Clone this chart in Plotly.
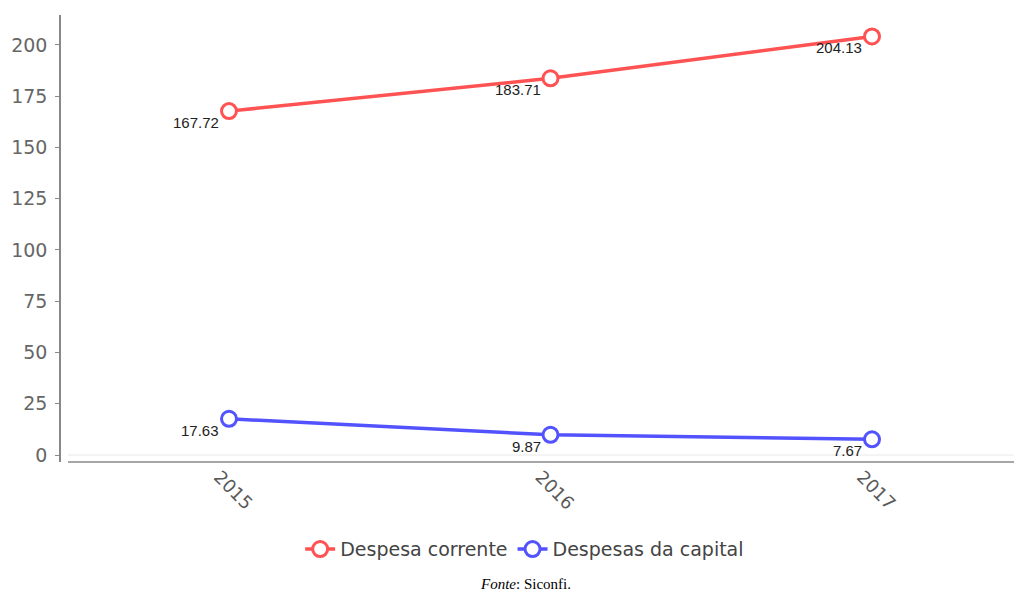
import plotly.graph_objects as go

years = ["2015", "2016", "2017"]
despesa_corrente = [167.72, 183.71, 204.13]
despesas_capital = [17.63, 9.87, 7.67]
series_names = ["Despesa corrente", "Despesas da capital"]
y_ticks = [0, 25, 50, 75, 100, 125, 150, 175, 200]

RED = "#ff5252"
BLUE = "#5252ff"

fig = go.Figure()
for name, vals, col in [(series_names[0], despesa_corrente, RED),
                        (series_names[1], despesas_capital, BLUE)]:
    fig.add_trace(go.Scatter(
        x=years, y=vals, name=name, mode="lines+markers",
        line=dict(color=col, width=3.5),
        marker=dict(symbol="circle", size=15, color="white",
                    line=dict(color=col, width=3)),
        cliponaxis=False,
    ))
    for i, yv in enumerate(vals):
        fig.add_annotation(x=i, y=yv, text=f"{yv:.2f}", showarrow=False,
                           xanchor="right", yanchor="top", xshift=-8, yshift=-1,
                           font=dict(family="Liberation Sans", size=15, color="#222222"))

fig.update_layout(
    width=1014, height=587,
    margin=dict(l=53, r=5, t=7, b=133, autoexpand=False),
    paper_bgcolor="white", plot_bgcolor="white",
    font=dict(family="DejaVu Sans", color="#555555"),
    xaxis=dict(type="category", range=[-0.5226, 2.451], showgrid=False,
               zeroline=False, showline=False, ticks="", automargin=False,
               tickangle=45, ticklabelshift=-10,
               tickfont=dict(size=18, color="#5a5a5a")),
    yaxis=dict(range=[-3.41, 214.6], tickvals=y_ticks, showgrid=False,
               zeroline=False, showline=True, linecolor="#888888", linewidth=1.5,
               ticks="outside", ticklen=4, tickcolor="#888888", automargin=False,
               ticklabelstandoff=4,
               tickfont=dict(size=19, color="#666666")),
    legend=dict(orientation="h", x=0.485, xanchor="center", y=-0.195,
                yanchor="middle", font=dict(size=19, color="#444444"),
                itemwidth=30, tracegroupgap=0),
    showlegend=True,
)

fig.add_shape(type="line", xref="paper", yref="paper", x0=7/956, x1=1, y0=0, y1=0,
              line=dict(color="#888888", width=1.5))
fig.add_shape(type="line", xref="paper", yref="y", x0=7/956, x1=1, y0=0, y1=0,
              line=dict(color="#e8e8e8", width=1), layer="below")

fig.add_annotation(text="<i>Fonte</i>: Siconfi.", xref="paper", yref="paper",
                   x=(525-61)/956, y=-(584-462)/447, xanchor="center", yanchor="middle",
                   showarrow=False, font=dict(family="Liberation Serif", size=15, color="#000000"))

fig.write_html("out.html")
